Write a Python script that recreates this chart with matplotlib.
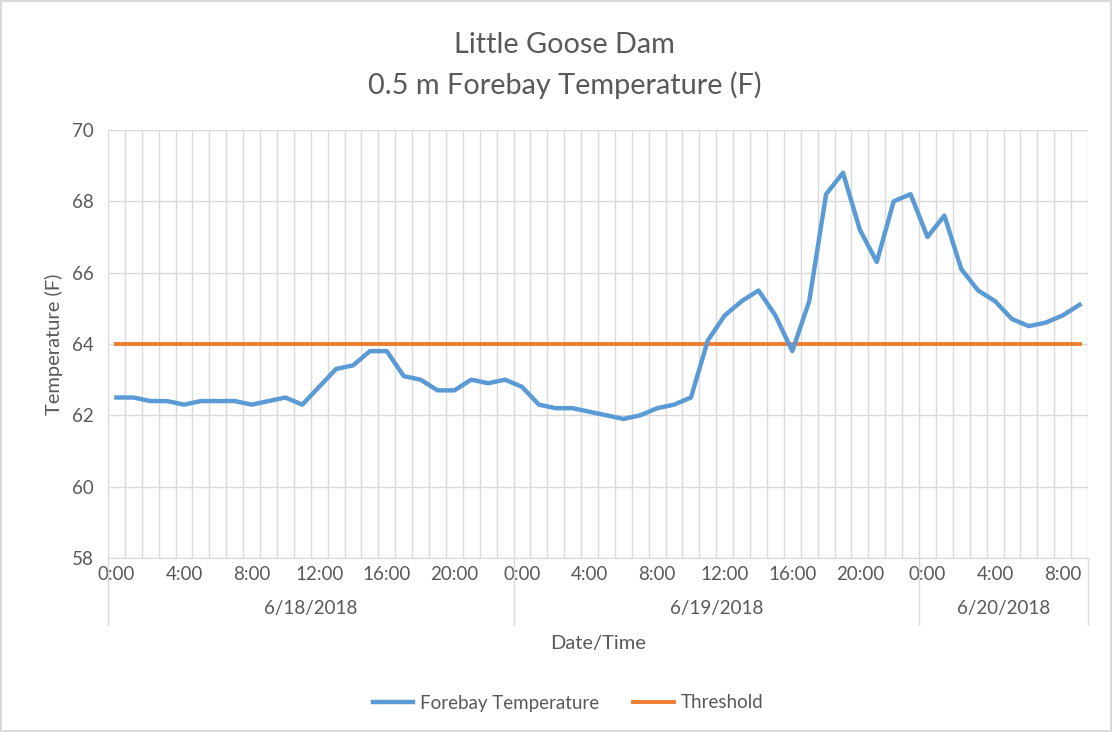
import numpy as np
import matplotlib.pyplot as plt
import matplotlib.transforms as mtransforms

plt.rcParams['font.family'] = ['Lato', 'DejaVu Sans']

# hourly readings, 6/18/2018 0:00 through 6/20/2018 9:00
days = ["6/18/2018", "6/19/2018", "6/20/2018"]
hours_per_day = [24, 24, 10]
temperature = [
    62.5, 62.5, 62.4, 62.4, 62.3, 62.4, 62.4, 62.4, 62.3, 62.4, 62.5, 62.3,
    62.8, 63.3, 63.4, 63.8, 63.8, 63.1, 63.0, 62.7, 62.7, 63.0, 62.9, 63.0,
    62.8, 62.3, 62.2, 62.2, 62.1, 62.0, 61.9, 62.0, 62.2, 62.3, 62.5, 64.1,
    64.8, 65.2, 65.5, 64.8, 63.8, 65.2, 68.2, 68.8, 67.2, 66.3, 68.0, 68.2,
    67.0, 67.6, 66.1, 65.5, 65.2, 64.7, 64.5, 64.6, 64.8, 65.1,
]
threshold = [64.0] * len(temperature)

BLUE = "#5B9BD5"
ORANGE = "#ED7D31"
GRID = "#D9D9D9"
TXT = "#595959"

fig = plt.figure(figsize=(11.12, 7.32), dpi=100)
fig.patch.set_edgecolor("#D9D9D9")
fig.patch.set_linewidth(1.5)
ax = fig.add_axes([108 / 1112, 1 - 558 / 732, 980 / 1112, 428 / 732])

x = np.arange(len(temperature))
ax.plot(x, temperature, color=BLUE, lw=3.2, label="Forebay Temperature", solid_joinstyle="round", zorder=3)
ax.plot(x, threshold, color=ORANGE, lw=2.8, label="Threshold", zorder=2)

ax.set_xlim(-0.5, len(temperature) - 0.5)
ax.set_ylim(58, 70)
ax.set_yticks(np.arange(58, 71, 2))

# category ticks: label every 4 hours, gridline at every category boundary
tick_pos, tick_lab = [], []
start = 0
for n in hours_per_day:
    for h in range(0, n, 4):
        tick_pos.append(start + h)
        tick_lab.append("%d:00" % h)
    start += n
ax.set_xticks(tick_pos)
ax.set_xticklabels(tick_lab)
ax.set_xticks(np.arange(-0.5, len(temperature), 1), minor=True)

ax.grid(True, which="minor", axis="x", color=GRID, lw=1)
ax.grid(True, which="major", axis="y", color=GRID, lw=1)
ax.set_axisbelow(True)

for s in ["top", "right", "left"]:
    ax.spines[s].set_visible(False)
ax.spines["bottom"].set_color(GRID)
ax.tick_params(axis="both", which="both", length=0, colors=TXT, labelsize=13.5)
ax.tick_params(axis="x", pad=6)
ax.tick_params(axis="y", pad=10)

# second level of the category axis: day labels and separators
trans = mtransforms.blended_transform_factory(ax.transData, ax.transAxes)
start = 0
bounds = [-0.5]
for d, n in zip(days, hours_per_day):
    ax.text(start + (n - 1) / 2, -0.117, d, transform=trans, ha="center", va="center",
            fontsize=13.5, color=TXT)
    start += n
    bounds.append(start - 0.5)
for b in bounds:
    ax.plot([b, b], [0, -0.157], transform=trans, color=GRID, lw=1, clip_on=False)

ax.set_xlabel("Date/Time", fontsize=14.5, color=TXT, labelpad=37)
ax.set_ylabel("Temperature (F)", fontsize=14.5, color=TXT, labelpad=7)

fig.text(0.508, 1 - 45 / 732, "Little Goose Dam", ha="center", va="center", fontsize=20.8, color=TXT)
fig.text(0.508, 1 - 85 / 732, "0.5 m Forebay Temperature (F)", ha="center", va="center", fontsize=20.8, color=TXT)

fig.legend(loc="center", bbox_to_anchor=(0.511, 1 - 703 / 732), ncol=2, frameon=False,
           fontsize=13.5, labelcolor=TXT, handlelength=2.15, columnspacing=1.8, handletextpad=0.4)

plt.savefig("out.png", dpi=100)
